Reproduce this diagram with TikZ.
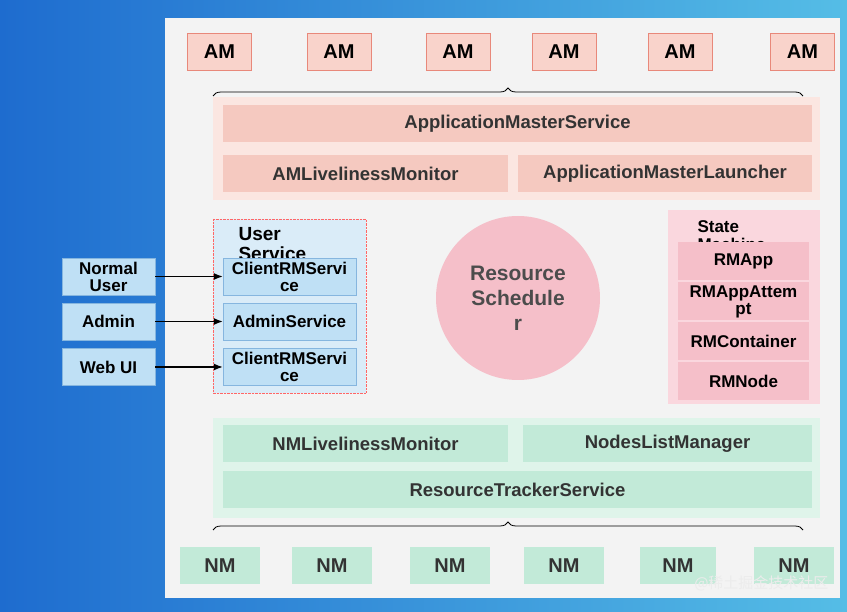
\documentclass[tikz,border=0pt]{standalone}
\usepackage{fontspec}
\setmainfont{Liberation Sans}
\newfontfamily\cjk{Noto Sans CJK SC}
\usetikzlibrary{arrows.meta,decorations.pathreplacing}

\definecolor{amfill}{HTML}{F9D3CB}
\definecolor{amdraw}{HTML}{E8887A}
\definecolor{rmfill}{HTML}{F5C9C0}
\definecolor{rmband}{HTML}{FBE6E1}
\definecolor{usfill}{HTML}{BFE0F5}
\definecolor{usdraw}{HTML}{86B6DF}
\definecolor{usband}{HTML}{DAECF8}
\definecolor{smfill}{HTML}{F5BFC9}
\definecolor{smband}{HTML}{FAD7DE}
\definecolor{nmfill}{HTML}{C2EAD8}
\definecolor{nmband}{HTML}{DFF4EA}
\definecolor{panel}{HTML}{F3F3F3}
\definecolor{bgdark}{HTML}{1E6CCF}
\definecolor{bglight}{HTML}{55BDE6}

\tikzset{
  box/.style={draw, minimum width=#1, minimum height=37, inner sep=1,
    align=center, font=\fontsize{17}{17}\selectfont\bfseries},
  am/.style={box=64, fill=amfill, draw=amdraw, font=\fontsize{20}{20}\selectfont\bfseries},
  rm/.style={box=#1, fill=rmfill, draw=none, text=black!80, font=\fontsize{18.5}{18.5}\selectfont\bfseries},
  us/.style={box=#1, fill=usfill, draw=usdraw},
  sm/.style={box=131, minimum height=38, fill=smfill, draw=none},
  nm/.style={box=#1, fill=nmfill, draw=none, text=black!80, font=\fontsize{20}{20}\selectfont\bfseries},
  brace/.style={decorate, decoration={brace, amplitude=8}, thick},
  conn/.style={-{Latex[length=9, width=7]}, line width=1.3}
}

\begin{document}
\begin{tikzpicture}[x=1pt, y=-1pt]

    % Background
    \shade[left color=bgdark, right color=bglight] (0,0) rectangle (847,612);
    \fill[panel] (165,18) rectangle (840,598);
    \useasboundingbox (0,0) rectangle (847,612);

    % Application masters
    \node[am] (am1) at (219.5,51.5) {AM};
    \node[am] (am2) at (339,51.5) {AM};
    \node[am] (am3) at (458,51.5) {AM};
    \node[am] (am4) at (564,51.5) {AM};
    \node[am] (am5) at (680,51.5) {AM};
    \node[am] (am6) at (802.5,51.5) {AM};
    \draw[brace] (213,96) -- (803,96);

    % Resource manager services
    \fill[rmband] (213,97) rectangle (820,200);
    \node[rm=589] (ams) at (517.5,123.5) {ApplicationMasterService};
    \node[rm=285] (amlm) at (365.5,173.5) {AMLivelinessMonitor};
    \node[rm=294] (aml) at (665,173.5) {ApplicationMasterLauncher};

    % User service
    \fill[usband] (213,219) rectangle (366,393);
    \draw[red!60, densely dotted] (213,219) rectangle (366,393);
    \node[font=\fontsize{19}{20}\selectfont\bfseries, align=left, anchor=north west]
      (uslabel) at (235,224) {User\\Service};
    \node[us=133] (crms1) at (289.5,276.5) {ClientRMServi\\ce};
    \node[us=133] (adms) at (289.5,321.5) {AdminService};
    \node[us=133] (crms2) at (289.5,367) {ClientRMServi\\ce};

    % Clients
    \node[us=93] (user) at (108.5,276.5) {Normal\\User};
    \node[us=93] (admin) at (108.5,321.5) {Admin};
    \node[us=93] (webui) at (108.5,367) {Web UI};
    \draw[conn] (user) -- (crms1);
    \draw[conn] (admin) -- (adms);
    \draw[conn] (webui) -- (crms2);

    % Scheduler
    \node[circle, fill=smfill, minimum size=164, align=center, text=black!70,
      font=\fontsize{21}{25}\selectfont\bfseries] (sched) at (518,298)
      {Resource\\Schedule\\r};

    % State machine
    \fill[smband] (668,210) rectangle (820,404);
    \node[font=\fontsize{17}{18}\selectfont\bfseries, align=left, anchor=north west]
      (smlabel) at (694,217) {State\\Machine};
    \node[sm] (rmapp) at (743.5,261) {RMApp};
    \node[sm] (rmatt) at (743.5,301.5) {RMAppAttem\\pt};
    \node[sm] (rmcont) at (743.5,341) {RMContainer};
    \node[sm] (rmnode) at (743.5,381) {RMNode};

    % Node manager services
    \fill[nmband] (213,418) rectangle (820,518);
    \node[rm=285, fill=nmfill] (nmlm) at (365.5,443.5) {NMLivelinessMonitor};
    \node[rm=289, fill=nmfill] (nlm) at (667.5,444) {NodesListManager};
    \node[rm=589, fill=nmfill] (rts) at (517.5,490) {ResourceTrackerService};
    \draw[brace] (213,530) -- (803,530);

    % Node managers
    \node[nm=80] (nm1) at (220,565.5) {NM};
    \node[nm=80] (nm2) at (332,565.5) {NM};
    \node[nm=80] (nm3) at (450,565.5) {NM};
    \node[nm=80] (nm4) at (564,565.5) {NM};
    \node[nm=76] (nm5) at (678,565.5) {NM};
    \node[nm=80] (nm6) at (794,565.5) {NM};

    \node[text=white!85!gray, font=\cjk\fontsize{15}{15}\selectfont, anchor=east] (wm) at (832,583) {@稀土掘金技术社区};

\end{tikzpicture}
\end{document}
